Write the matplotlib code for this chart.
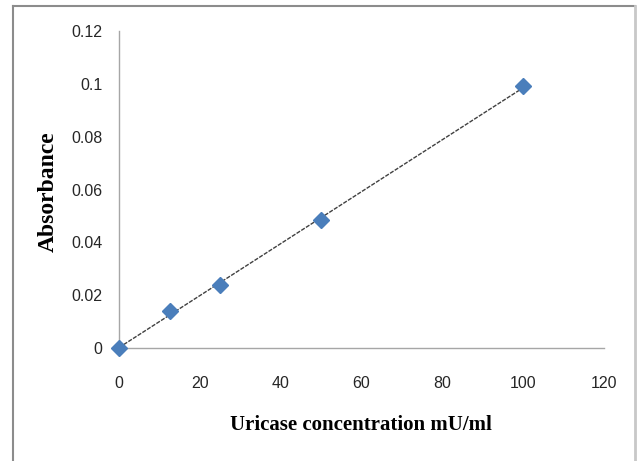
import matplotlib
matplotlib.use("Agg")
import matplotlib.pyplot as plt
from matplotlib.lines import Line2D
import numpy as np

concentration = [0, 12.5, 25, 50, 100]
absorbance = [0.0, 0.014, 0.0237, 0.0485, 0.0990]
x_ticks = [0, 20, 40, 60, 80, 100, 120]
y_ticks = [0, 0.02, 0.04, 0.06, 0.08, 0.1, 0.12]
y_tick_labels = ["0", "0.02", "0.04", "0.06", "0.08", "0.1", "0.12"]
x_label = "Uricase concentration mU/ml"
y_label = "Absorbance"

fig = plt.figure(figsize=(6.4, 4.61), dpi=100)
ax = fig.add_axes([119/640, 1-348/461, (604-119)/640, (348-31)/461])

# trend line (linear fit of data)
slope, intercept = np.polyfit(concentration, absorbance, 1)
xs = np.array([concentration[0], concentration[-1]])
ax.plot(xs, slope*xs + intercept, color="#404040", lw=1.0,
        linestyle=(0, (3, 1)), zorder=2)
ax.plot(concentration, absorbance, linestyle="none", marker="D",
        markersize=8, color="#4a7ebb", markeredgecolor="#4a7ebb",
        zorder=3, clip_on=False)

ax.set_xlim(0, 120)
ax.set_ylim(0, 0.12)
ax.set_xticks(x_ticks)
ax.set_yticks(y_ticks)
ax.set_yticklabels(y_tick_labels)
for s in ["top", "right"]:
    ax.spines[s].set_visible(False)
for s in ["left", "bottom"]:
    ax.spines[s].set_color("#a6a6a6")
    ax.spines[s].set_linewidth(1.0)

tick_font = ["Liberation Sans", "DejaVu Sans"]
ax.tick_params(axis="both", length=0, labelsize=11.5, colors="#262626")
ax.tick_params(axis="x", pad=20)
ax.tick_params(axis="y", pad=12)
for lab in ax.get_xticklabels() + ax.get_yticklabels():
    lab.set_family(tick_font)

fig.text(361/640, 1-425/461, x_label, ha="center", va="center",
         family="Liberation Serif", fontweight="bold", fontsize=15)
fig.text(48/640, 1-192/461, y_label, ha="center", va="center", rotation=90,
         family="Liberation Serif", fontweight="bold", fontsize=17)

# outer frame (left, top, right)
fc = "#8c8c8c"
fig.add_artist(Line2D([13/640, 13/640], [0, 1-6/461], transform=fig.transFigure, color=fc, lw=1.5))
fig.add_artist(Line2D([13/640, 635/640], [1-6/461, 1-6/461], transform=fig.transFigure, color=fc, lw=1.5))
fig.add_artist(Line2D([635/640, 635/640], [0, 1-6/461], transform=fig.transFigure, color="#c8c8c8", lw=2))

fig.savefig("out.png", dpi=100)
